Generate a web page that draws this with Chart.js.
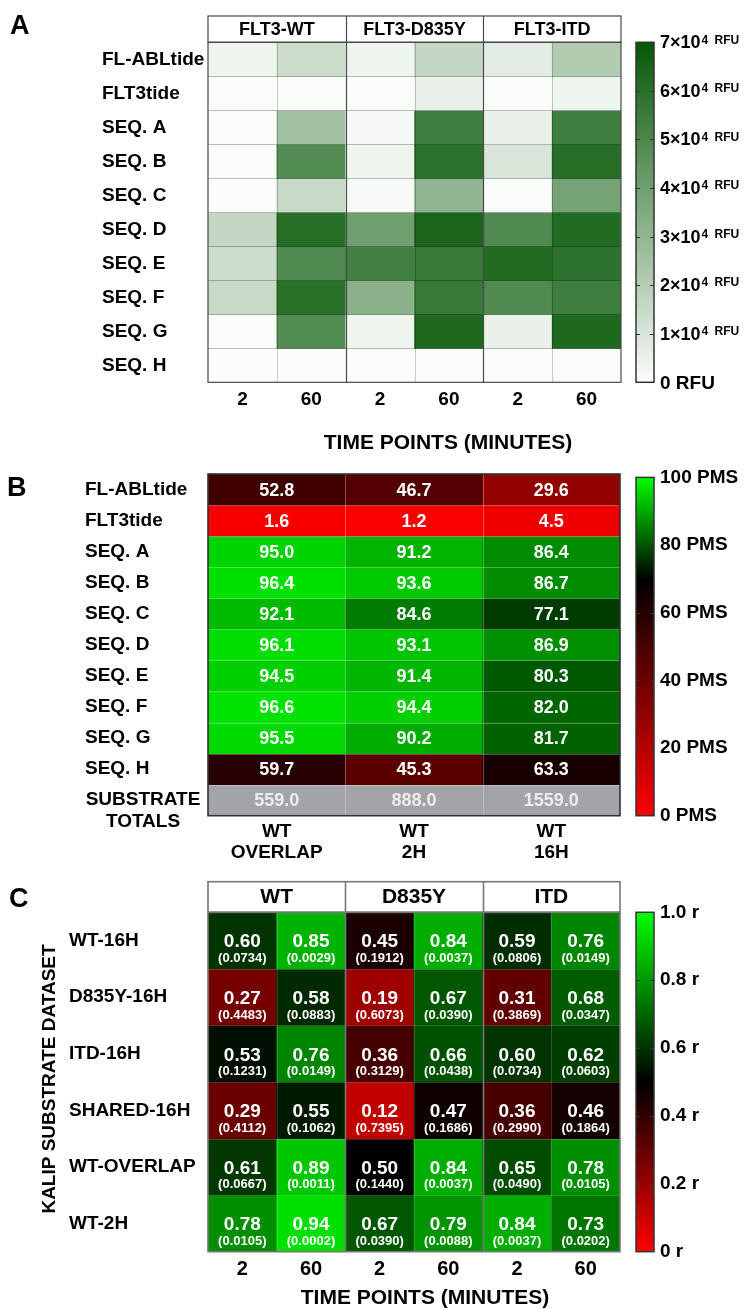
<!DOCTYPE html>
<html>
<head>
<meta charset="utf-8">
<script src="https://cdn.jsdelivr.net/npm/chart.js@4.4.1/dist/chart.umd.min.js"></script>
<style>
  html, body { margin: 0; padding: 0; background: #fff; }
  body { position: relative; width: 746px; height: 1309px; overflow: hidden; }
  canvas { position: absolute; }
</style>
</head>
<body>
<canvas id="heatA" width="746" height="460" style="left:0;top:0"></canvas>
<canvas id="barA" width="146" height="460" style="left:600px;top:0"></canvas>
<canvas id="heatB" width="746" height="400" style="left:0;top:460px"></canvas>
<canvas id="barB" width="146" height="400" style="left:600px;top:460px"></canvas>
<canvas id="heatC" width="746" height="449" style="left:0;top:860px"></canvas>
<canvas id="barC" width="146" height="449" style="left:600px;top:860px"></canvas>
<script>
const FONT = '"Liberation Sans", Arial, Helvetica, sans-serif';

// ── Panel A : signal (x10^4 RFU) ──
const aGroups = ['FLT3-WT', 'FLT3-D835Y', 'FLT3-ITD'];
const aTimes = ['2', '60', '2', '60', '2', '60'];
const aRows = ['FL-ABLtide', 'FLT3tide', 'SEQ. A', 'SEQ. B', 'SEQ. C', 'SEQ. D', 'SEQ. E', 'SEQ. F', 'SEQ. G', 'SEQ. H'];
const aRfu = [
    [0.4, 1.4, 0.4, 1.6, 0.7, 2.1],
    [0.05, 0.05, 0.05, 0.5, 0.05, 0.4],
    [0.05, 2.6, 0.2, 5.4, 0.5, 5.4],
    [0.05, 4.8, 0.4, 5.9, 1.0, 6.1],
    [0.02, 1.5, 0.15, 3.1, 0.02, 3.8],
    [1.6, 6.1, 4.0, 6.4, 4.9, 6.2],
    [1.4, 4.9, 5.3, 5.6, 6.2, 5.9],
    [1.5, 6.0, 3.2, 5.6, 4.9, 5.4],
    [0.05, 4.8, 0.4, 6.3, 0.5, 6.3],
    [0.02, 0.02, 0.02, 0.02, 0.02, 0.05]
];
const aTicks = [0, 1, 2, 3, 4, 5, 6, 7];

// ── Panel B : PMS ──
const bCols = [['WT', 'OVERLAP'], ['WT', '2H'], ['WT', '16H']];
const bRows = ['FL-ABLtide', 'FLT3tide', 'SEQ. A', 'SEQ. B', 'SEQ. C', 'SEQ. D', 'SEQ. E', 'SEQ. F', 'SEQ. G', 'SEQ. H', 'SUBSTRATE TOTALS'];
const bPms = [
    [52.8, 46.7, 29.6],
    [1.6, 1.2, 4.5],
    [95.0, 91.2, 86.4],
    [96.4, 93.6, 86.7],
    [92.1, 84.6, 77.1],
    [96.1, 93.1, 86.9],
    [94.5, 91.4, 80.3],
    [96.6, 94.4, 82.0],
    [95.5, 90.2, 81.7],
    [59.7, 45.3, 63.3]
];
const bTotals = [559.0, 888.0, 1559.0];
const bTicks = [0, 20, 40, 60, 80, 100];

// ── Panel C : correlation r (p) ──
const cGroups = ['WT', 'D835Y', 'ITD'];
const cTimes = ['2', '60', '2', '60', '2', '60'];
const cRows = ['WT-16H', 'D835Y-16H', 'ITD-16H', 'SHARED-16H', 'WT-OVERLAP', 'WT-2H'];
const cR = [
    [0.60, 0.85, 0.45, 0.84, 0.59, 0.76],
    [0.27, 0.58, 0.19, 0.67, 0.31, 0.68],
    [0.53, 0.76, 0.36, 0.66, 0.60, 0.62],
    [0.29, 0.55, 0.12, 0.47, 0.36, 0.46],
    [0.61, 0.89, 0.50, 0.84, 0.65, 0.78],
    [0.78, 0.94, 0.67, 0.79, 0.84, 0.73]
];
const cP = [
    ['0.0734', '0.0029', '0.1912', '0.0037', '0.0806', '0.0149'],
    ['0.4483', '0.0883', '0.6073', '0.0390', '0.3869', '0.0347'],
    ['0.1231', '0.0149', '0.3129', '0.0438', '0.0734', '0.0603'],
    ['0.4112', '0.1062', '0.7395', '0.1686', '0.2990', '0.1864'],
    ['0.0667', '0.0011', '0.1440', '0.0037', '0.0490', '0.0105'],
    ['0.0105', '0.0002', '0.0390', '0.0088', '0.0037', '0.0202']
];
const cTicks = [0, 0.2, 0.4, 0.6, 0.8, 1.0];

// ── Colour maps ──
const greenMap = [[0, [252, 253, 252]], [1, [6, 88, 6]]];
const pmsMap = [[0, [255, 0, 0]], [0.7, [0, 0, 0]], [1, [0, 255, 0]]];
const rMap = [[0, [255, 0, 0]], [0.5, [0, 0, 0]], [1, [0, 255, 0]]];

function rgb(c) {
    return 'rgb(' + c.map(Math.round).join(',') + ')';
}

function mapColor(stops, t) {
    t = Math.max(0, Math.min(1, t));
    for (let k = 1; k < stops.length; k++) {
        const [t0, c0] = stops[k - 1];
        const [t1, c1] = stops[k];
        if (t <= t1) {
            const f = (t - t0) / (t1 - t0);
            return rgb(c0.map((v, ch) => v + (c1[ch] - v) * f));
        }
    }
    return rgb(stops[stops.length - 1][1]);
}

function font(size) {
    return 'bold ' + size + 'px ' + FONT;
}

function text(ctx, str, x, y, size, color, align) {
    ctx.font = font(size);
    ctx.fillStyle = color || '#000';
    ctx.textAlign = align || 'center';
    ctx.textBaseline = 'middle';
    ctx.fillText(str, x, y);
}

// ── decorations drawn on top of the heatmap bars ──
function decor(cfg) {
    return {
        id: 'decor',
        afterDatasetsDraw(chart) {
            const { ctx, chartArea: ca, scales: { x, y } } = chart;
            const nCols = chart.data.labels.length;
            const nRows = chart.data.datasets.length;
            const xb = j => x.getPixelForValue(j - 0.5);
            ctx.save();

            // inner cell lines
            ctx.lineWidth = 1;
            ctx.strokeStyle = cfg.innerV;
            ctx.beginPath();
            for (let j = 1; j < nCols; j++) {
                if (cfg.groups && j % 2 === 0) continue;
                const px = Math.round(xb(j)) + 0.5;
                ctx.moveTo(px, ca.top);
                ctx.lineTo(px, ca.bottom);
            }
            ctx.stroke();
            ctx.strokeStyle = cfg.innerH;
            ctx.beginPath();
            for (let i = 1; i < nRows; i++) {
                const py = Math.round(y.getPixelForValue(i)) + 0.5;
                ctx.moveTo(ca.left, py);
                ctx.lineTo(ca.right, py);
            }
            ctx.stroke();

            // group separators + frame
            ctx.strokeStyle = cfg.outer;
            ctx.lineWidth = cfg.outerW;
            ctx.beginPath();
            if (cfg.groups) {
                for (let j = 2; j < nCols; j += 2) {
                    const px = Math.round(xb(j)) + 0.5;
                    ctx.moveTo(px, cfg.headerTop);
                    ctx.lineTo(px, ca.bottom);
                }
            }
            ctx.stroke();
            ctx.strokeRect(ca.left, ca.top, ca.right - ca.left, ca.bottom - ca.top);

            // header boxes
            if (cfg.groups) {
                ctx.strokeRect(ca.left, cfg.headerTop, ca.right - ca.left, ca.top - cfg.headerTop);
                cfg.groups.forEach((g, k) => {
                    const l = xb(2 * k), r = xb(2 * k + 2);
                    text(ctx, g, (l + r) / 2, cfg.headerTextY, cfg.headerSize);
                });
            }

            // cell values
            if (cfg.cellText) {
                chart.data.datasets.forEach((ds, i) => {
                    chart.getDatasetMeta(i).data.forEach((bar, j) => {
                        cfg.cellText(ctx, i, j, bar.x, (bar.y + bar.base) / 2);
                    });
                });
            }

            // letter, titles
            text(ctx, cfg.letter[0], cfg.letter[1], cfg.letter[2], 27, '#000', 'left');
            if (cfg.xTitle) text(ctx, 'TIME POINTS (MINUTES)', cfg.xTitle[0], cfg.xTitle[1], 21);
            if (cfg.yTitle) {
                ctx.save();
                ctx.translate(cfg.yTitle[1], cfg.yTitle[2]);
                ctx.rotate(-Math.PI / 2);
                text(ctx, cfg.yTitle[0], 0, 0, 19);
                ctx.restore();
            }
            if (cfg.extra) cfg.extra(ctx, chart);
            ctx.restore();
        }
    };
}

function heatmap(id, cfg) {
    const datasets = cfg.rows.map((row, i) => ({
        label: row,
        data: cfg.cols.map(() => 1),
        backgroundColor: cfg.colors[i],
        stack: 'cells',
        barPercentage: 1,
        categoryPercentage: 1,
        borderWidth: 0
    }));

    return new Chart(document.getElementById(id), {
        type: 'bar',
        data: { labels: cfg.cols, datasets },
        options: {
            responsive: false,
            animation: false,
            layout: { padding: cfg.padding },
            plugins: { legend: { display: false }, tooltip: { enabled: false } },
            scales: {
                x: {
                    stacked: true,
                    grid: { display: false, drawTicks: false },
                    border: { display: false },
                    ticks: {
                        color: '#000',
                        font: { family: FONT, weight: 'bold', size: cfg.xFont, lineHeight: cfg.xLine },
                        padding: cfg.xPad,
                        maxRotation: 0,
                        autoSkip: false
                    },
                    afterFit: s => { s.height = cfg.xHeight; }
                },
                y: {
                    stacked: true,
                    reverse: true,
                    min: 0,
                    max: cfg.rows.length,
                    grid: { display: false, drawTicks: false },
                    border: { display: false },
                    afterBuildTicks: s => { s.ticks = cfg.rows.map((_, i) => ({ value: i + 0.5 })); },
                    ticks: {
                        crossAlign: 'far',
                        color: '#000',
                        padding: 0,
                        font: { family: FONT, weight: 'bold', size: 19 },
                        callback: (v, i) => cfg.rowLabel(i)
                    },
                    afterFit: s => { s.width = cfg.yWidth; }
                }
            }
        },
        plugins: [decor(cfg)]
    });
}

function colorbar(id, cfg) {
    const frame = {
        id: 'frame',
        afterDatasetsDraw(chart) {
            const { ctx, chartArea: ca, scales: { y } } = chart;
            ctx.save();
            ctx.strokeStyle = '#333';
            ctx.lineWidth = 1.5;
            ctx.strokeRect(ca.left, ca.top, ca.right - ca.left, ca.bottom - ca.top);
            ctx.lineWidth = 1.2;
            ctx.beginPath();
            cfg.ticks.forEach(v => {
                if (v === cfg.min || v === cfg.max) return;
                const py = Math.round(y.getPixelForValue(v)) + 0.5;
                ctx.moveTo(ca.left, py);
                ctx.lineTo(ca.left + 4, py);
                ctx.moveTo(ca.right - 4, py);
                ctx.lineTo(ca.right, py);
            });
            ctx.stroke();
            if (cfg.drawLabels) cfg.drawLabels(ctx, chart);
            ctx.restore();
        }
    };

    return new Chart(document.getElementById(id), {
        type: 'bar',
        data: {
            labels: [''],
            datasets: [{
                data: [[cfg.min, cfg.max]],
                backgroundColor: c => {
                    const ca = c.chart.chartArea;
                    if (!ca) return null;
                    const g = c.chart.ctx.createLinearGradient(0, ca.bottom, 0, ca.top);
                    cfg.stops.forEach(([t, col]) => g.addColorStop(t, rgb(col)));
                    return g;
                },
                barPercentage: 1,
                categoryPercentage: 1,
                borderWidth: 0
            }]
        },
        options: {
            responsive: false,
            animation: false,
            layout: { padding: cfg.padding },
            plugins: { legend: { display: false }, tooltip: { enabled: false } },
            scales: {
                x: { display: false },
                y: {
                    position: 'right',
                    min: cfg.min,
                    max: cfg.max,
                    grid: { display: false, drawTicks: false },
                    border: { display: false },
                    afterBuildTicks: s => { s.ticks = cfg.ticks.map(v => ({ value: v })); },
                    ticks: {
                        display: !cfg.drawLabels,
                        padding: 6,
                        color: '#000',
                        font: { family: FONT, weight: 'bold', size: 19 },
                        callback: cfg.format
                    },
                    afterFit: s => { s.width = 92; }
                }
            }
        },
        plugins: [frame]
    });
}

// ── PANEL A ──
heatmap('heatA', {
    cols: aTimes,
    rows: aRows,
    colors: aRfu.map(r => r.map(v => mapColor(greenMap, v / 7))),
    padding: { left: 102, top: 42.3, right: 125, bottom: 0 },
    yWidth: 106, xHeight: 77.7, xFont: 19, xLine: 1.2, xPad: 6.3,
    rowLabel: i => aRows[i],
    innerV: 'rgba(0,0,0,0.2)', innerH: 'rgba(0,0,0,0.25)',
    outer: '#4a4a4a', outerW: 1.2,
    groups: aGroups, headerTop: 16, headerTextY: 30.5, headerSize: 18,
    letter: ['A', 10, 27],
    xTitle: [448, 443]
});

colorbar('barA', {
    min: 0, max: 7, ticks: aTicks, stops: greenMap,
    padding: { left: 36, top: 42.3, right: 0, bottom: 77.7 },
    drawLabels: (ctx, chart) => {
        const { chartArea: ca, scales: { y } } = chart;
        const x0 = ca.right + 6;
        ctx.fillStyle = '#000';
        ctx.textAlign = 'left';
        aTicks.forEach(v => {
            const py = y.getPixelForValue(v);
            if (v === 0) {
                ctx.font = font(19);
                ctx.textBaseline = 'middle';
                ctx.fillText('0 RFU', x0, py + 1);
                return;
            }
            const main = v + '×10';
            ctx.font = font(18);
            ctx.textBaseline = 'middle';
            ctx.fillText(main, x0, py + 1);
            const w = ctx.measureText(main).width;
            ctx.font = font(12);
            ctx.textBaseline = 'top';
            ctx.fillText('4', x0 + w + 1, py - 8);
            ctx.fillText('RFU', x0 + w + 14, py - 8);
        });
    }
});

// ── PANEL B ──
heatmap('heatB', {
    cols: bCols,
    rows: bRows,
    colors: bPms.map(r => r.map(v => mapColor(pmsMap, v / 100))).concat([bTotals.map(() => '#a4a4a8')]),
    padding: { left: 85, top: 14, right: 126, bottom: 0 },
    yWidth: 123, xHeight: 44.3, xFont: 19, xLine: 1.12, xPad: 5,
    rowLabel: i => (i < bRows.length - 1 ? bRows[i] : ''),
    innerV: 'rgba(255,255,255,0.3)', innerH: 'rgba(255,255,255,0.3)',
    outer: '#333', outerW: 1.6,
    letter: ['B', 7, 29],
    cellText: (ctx, i, j, cx, cy) => {
        const isTotal = i === bPms.length;
        const v = isTotal ? bTotals[j] : bPms[i][j];
        text(ctx, v.toFixed(1), cx, cy + 1, 18, isTotal ? '#ededed' : '#fff');
    },
    extra: ctx => {
        text(ctx, 'SUBSTRATE', 143, 340, 19);
        text(ctx, 'TOTALS', 143, 361.5, 19);
    }
});

colorbar('barB', {
    min: 0, max: 100, ticks: bTicks, stops: pmsMap,
    padding: { left: 36, top: 14, right: 0, bottom: 44.3 },
    format: v => v + ' PMS'
});

// ── PANEL C ──
heatmap('heatC', {
    cols: cTimes,
    rows: cRows,
    colors: cR.map(r => r.map(v => mapColor(rMap, v))),
    padding: { left: 69, top: 52.3, right: 126, bottom: 0 },
    yWidth: 139, xHeight: 57.3, xFont: 20, xLine: 1.2, xPad: 5.3,
    rowLabel: i => cRows[i],
    innerV: 'rgba(255,255,255,0.16)', innerH: 'rgba(255,255,255,0.16)',
    outer: '#777', outerW: 1.6,
    groups: cGroups, headerTop: 21.7, headerTextY: 37.5, headerSize: 21,
    letter: ['C', 9, 40],
    xTitle: [425, 438],
    yTitle: ['KALIP SUBSTRATE DATASET', 49.5, 219],
    cellText: (ctx, i, j, cx, cy) => {
        text(ctx, cR[i][j].toFixed(2), cx, cy + 1.6, 19, '#fff');
        text(ctx, '(' + cP[i][j] + ')', cx, cy + 18, 13, '#fff');
    }
});

colorbar('barC', {
    min: 0, max: 1, ticks: cTicks, stops: rMap,
    padding: { left: 36, top: 52.3, right: 0, bottom: 57.3 },
    format: v => (v === 0 ? '0 r' : v.toFixed(1) + ' r')
});
</script>
</body>
</html>
